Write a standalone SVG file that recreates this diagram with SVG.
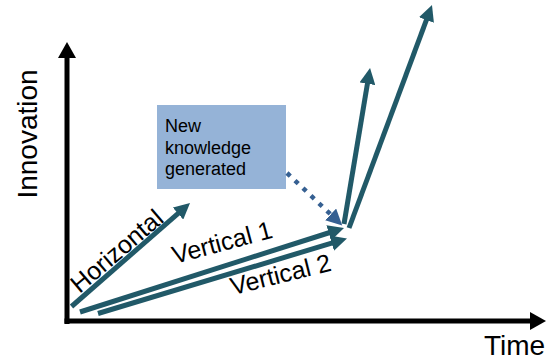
<svg xmlns="http://www.w3.org/2000/svg" width="546" height="361" viewBox="0 0 546 361">
  <style>
    .lbl { font-family: "Liberation Sans", Arial, sans-serif; fill: #000; }
    .axis { stroke: #000; stroke-width: 5; fill: none; }
    .flow { stroke: #215968; stroke-width: 5; fill: none; marker-end: url(#tealHead); }
    .dots { stroke: #366092; stroke-width: 4.5; fill: none; stroke-dasharray: 4.5 6.5; marker-end: url(#blueHead); }
  </style>
  <defs>
    <marker id="tealHead" markerUnits="userSpaceOnUse" markerWidth="17" markerHeight="16" refX="6" refY="8" orient="auto">
      <path d="M0,0 L16,8 L0,16 Z" fill="#215968"/>
    </marker>
    <marker id="blueHead" markerUnits="userSpaceOnUse" markerWidth="17" markerHeight="16" refX="6" refY="8" orient="auto">
      <path d="M0,0 L16,8 L0,16 Z" fill="#366092"/>
    </marker>
    <marker id="blackHead" markerUnits="userSpaceOnUse" markerWidth="17" markerHeight="18" refX="4" refY="9" orient="auto">
      <path d="M0,0 L16,9 L0,18 Z" fill="#000"/>
    </marker>
  </defs>

  <g id="axes">
    <line class="axis" x1="67" y1="324" x2="67" y2="54" marker-end="url(#blackHead)"/>
    <line class="axis" x1="64.5" y1="321" x2="534" y2="321" marker-end="url(#blackHead)"/>
    <text class="lbl" font-size="28" text-anchor="middle" transform="translate(37,134) rotate(-90)">Innovation</text>
    <text class="lbl" font-size="28" x="484" y="355">Time</text>
  </g>

  <g id="node-knowledge">
    <rect x="157" y="105" width="129" height="84" fill="#95B3D7"/>
    <text class="lbl" font-size="18" x="165" y="132">New</text>
    <text class="lbl" font-size="18" x="165" y="153.5">knowledge</text>
    <text class="lbl" font-size="18" x="165" y="175">generated</text>
  </g>

  <g id="connectors">
    <line class="dots" x1="287" y1="173" x2="335" y2="218.5"/>
    <line id="horizontal" class="flow" x1="71.5" y1="306.5" x2="182.5" y2="209.6"/>
    <line id="vertical1" class="flow" x1="80" y1="312" x2="334.5" y2="231"/>
    <line id="vertical2" class="flow" x1="98" y1="313.5" x2="337.4" y2="241.4"/>
    <line id="up-left" class="flow" x1="344" y1="224" x2="368.4" y2="77.9"/>
    <line id="up-right" class="flow" x1="349" y1="228" x2="428.5" y2="14.4"/>
  </g>

  <g id="labels">
    <text class="lbl" font-size="25" text-anchor="middle" transform="translate(116.5,250.5) rotate(-40.5)" y="9">Horizontal</text>
    <text class="lbl" font-size="25" text-anchor="middle" transform="translate(222,242) rotate(-15)" y="9">Vertical 1</text>
    <text class="lbl" font-size="25" text-anchor="middle" transform="translate(280.5,274) rotate(-14)" y="9">Vertical 2</text>
  </g>
</svg>
